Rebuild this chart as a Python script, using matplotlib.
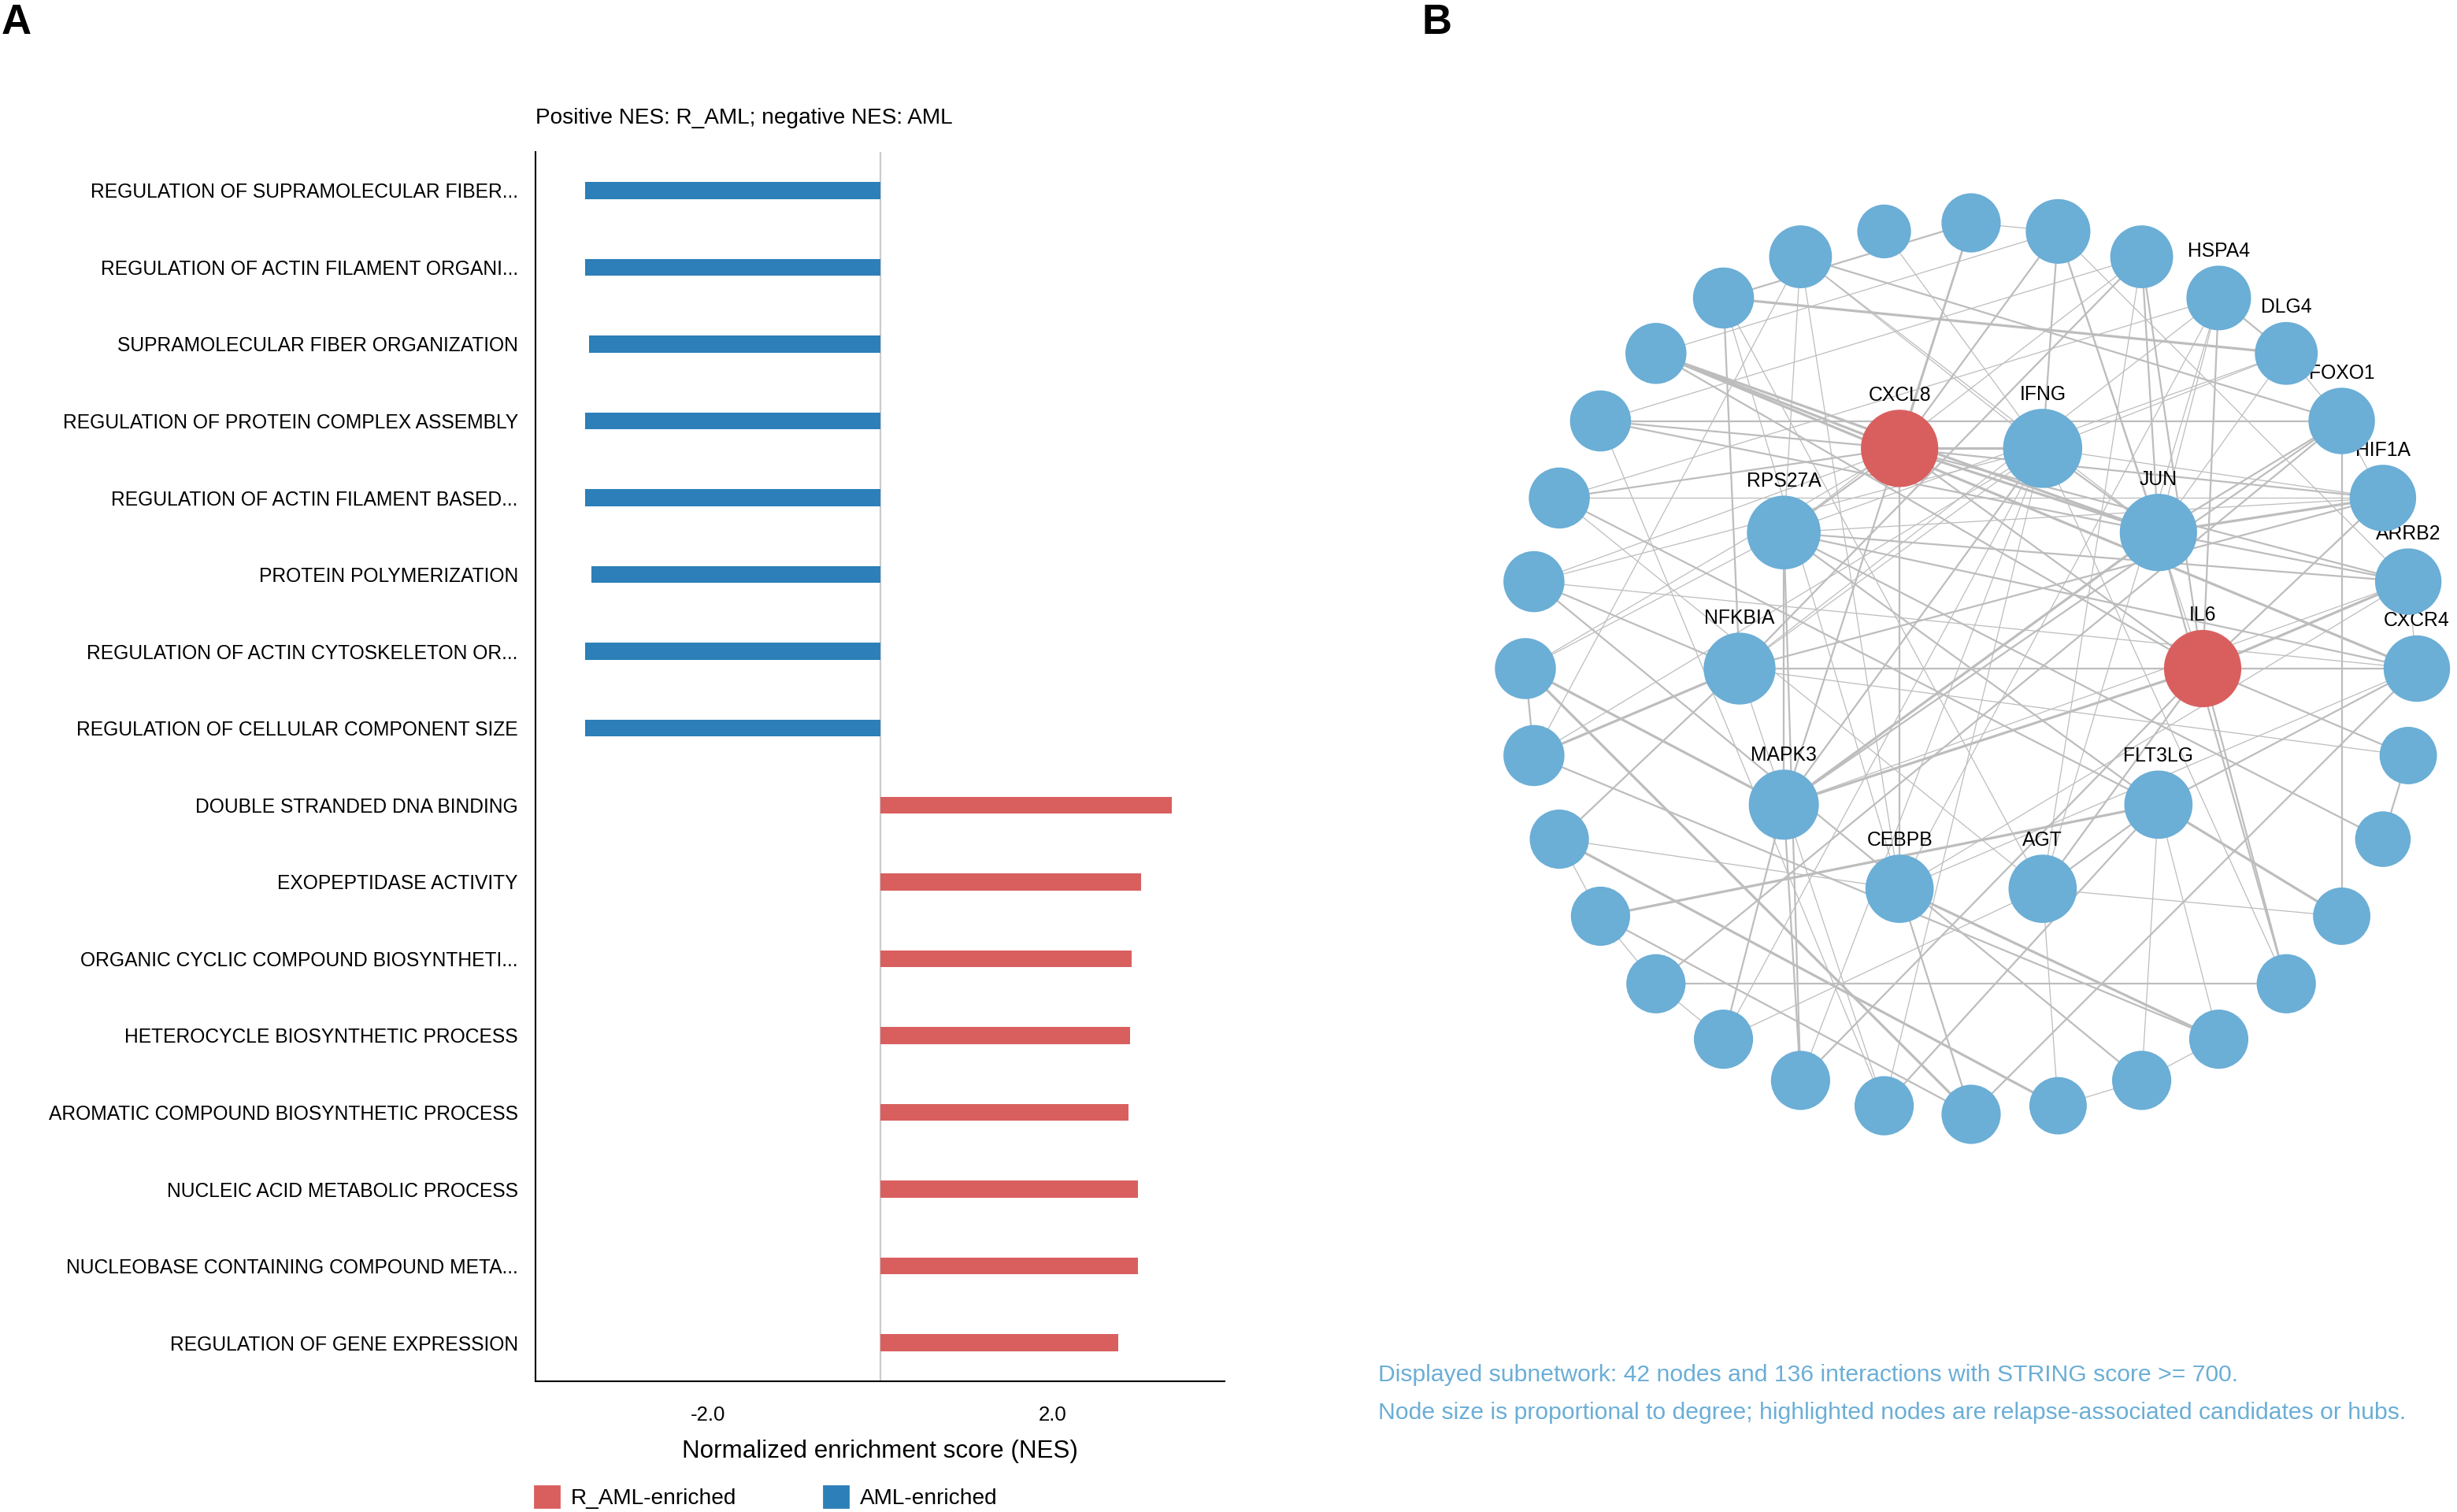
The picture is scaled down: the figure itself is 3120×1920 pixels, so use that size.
import numpy as np
import matplotlib
matplotlib.use("Agg")
import matplotlib.pyplot as plt
from matplotlib.patches import Patch, Circle
from matplotlib.collections import LineCollection

plt.rcParams['font.family'] = ['Liberation Sans', 'DejaVu Sans']
plt.rcParams['axes.unicode_minus'] = False

# ---- panel A data ----
terms = [
    "REGULATION OF SUPRAMOLECULAR FIBER...",
    "REGULATION OF ACTIN FILAMENT ORGANI...",
    "SUPRAMOLECULAR FIBER ORGANIZATION",
    "REGULATION OF PROTEIN COMPLEX ASSEMBLY",
    "REGULATION OF ACTIN FILAMENT BASED...",
    "PROTEIN POLYMERIZATION",
    "REGULATION OF ACTIN CYTOSKELETON OR...",
    "REGULATION OF CELLULAR COMPONENT SIZE",
    "DOUBLE STRANDED DNA BINDING",
    "EXOPEPTIDASE ACTIVITY",
    "ORGANIC CYCLIC COMPOUND BIOSYNTHETI...",
    "HETEROCYCLE BIOSYNTHETIC PROCESS",
    "AROMATIC COMPOUND BIOSYNTHETIC PROCESS",
    "NUCLEIC ACID METABOLIC PROCESS",
    "NUCLEOBASE CONTAINING COMPOUND META...",
    "REGULATION OF GENE EXPRESSION",
]
nes = [-3.42, -3.42, -3.38, -3.42, -3.42, -3.35, -3.42, -3.42,
       3.39, 3.03, 2.92, 2.90, 2.88, 2.99, 2.99, 2.77]
xticks = [-2.0, 2.0]
xtick_labels = ["-2.0", "2.0"]

# ---- panel B data ----
outer_nodes = ["n00", "n01", "n02", "HSPA4", "DLG4", "FOXO1", "HIF1A", "ARRB2",
               "CXCR4", "n09", "n10", "n11", "n12", "n13", "n14", "n15",
               "n16", "n17", "n18", "n19", "n20", "n21", "n22", "n23",
               "n24", "n25", "n26", "n27", "n28", "n29", "n30", "n31"]
inner_nodes = ["CXCL8", "IFNG", "JUN", "IL6", "FLT3LG",
               "AGT", "CEBPB", "MAPK3", "NFKBIA", "RPS27A"]
highlight = ["CXCL8", "IL6"]

# (node, node, weight class)
edges = [
    # inner - inner
    ("CXCL8", "IFNG", 3), ("CXCL8", "JUN", 3), ("CXCL8", "IL6", 2),
    ("CXCL8", "CEBPB", 2), ("CXCL8", "RPS27A", 2), ("IFNG", "JUN", 2),
    ("IFNG", "MAPK3", 2), ("JUN", "MAPK3", 3), ("IL6", "MAPK3", 3),
    ("IL6", "NFKBIA", 2), ("IL6", "AGT", 2), ("RPS27A", "MAPK3", 2),
    ("RPS27A", "FLT3LG", 2), ("AGT", "FLT3LG", 2), ("IFNG", "NFKBIA", 1),
    # outer - outer
    ("n29", "n00", 2), ("n00", "n01", 1), ("n28", "n01", 1), ("n27", "n02", 1),
    ("HSPA4", "n26", 1), ("HSPA4", "DLG4", 2), ("DLG4", "n29", 3),
    ("DLG4", "FOXO1", 1), ("FOXO1", "n30", 2), ("FOXO1", "n27", 2),
    ("FOXO1", "n11", 2), ("FOXO1", "n20", 2), ("HIF1A", "n26", 1),
    ("ARRB2", "n01", 1), ("ARRB2", "CXCR4", 1), ("CXCR4", "n28", 3),
    ("CXCR4", "n16", 2), ("CXCR4", "n25", 1), ("n09", "n10", 2),
    ("n20", "n12", 2), ("n13", "n14", 1), ("n14", "n15", 1), ("n13", "n23", 2),
    ("n15", "n22", 3), ("n16", "n21", 2), ("n16", "n24", 3), ("n19", "n20", 1),
    ("n20", "n21", 1), ("n21", "n22", 1), ("n23", "n24", 2), ("n23", "n30", 1),
    ("FOXO1", "HIF1A", 1), ("n27", "n17", 1), ("n25", "n14", 2),
    # outer - inner
    ("n00", "CXCL8", 2), ("n00", "MAPK3", 2),
    ("n01", "IFNG", 2), ("n01", "JUN", 2), ("n01", "IL6", 1), ("n01", "CXCL8", 2),
    ("n02", "JUN", 2), ("n02", "IL6", 2), ("n02", "NFKBIA", 2), ("n02", "AGT", 1),
    ("n02", "RPS27A", 1),
    ("HSPA4", "JUN", 1), ("HSPA4", "IL6", 2), ("HSPA4", "NFKBIA", 1),
    ("HSPA4", "AGT", 1), ("HSPA4", "CEBPB", 1),
    ("DLG4", "JUN", 1), ("DLG4", "RPS27A", 1), ("DLG4", "IFNG", 1),
    ("FOXO1", "JUN", 2), ("FOXO1", "MAPK3", 2),
    ("HIF1A", "IFNG", 1), ("HIF1A", "JUN", 3), ("HIF1A", "NFKBIA", 2),
    ("HIF1A", "IL6", 2), ("HIF1A", "CXCL8", 2), ("HIF1A", "RPS27A", 1),
    ("ARRB2", "IL6", 3), ("ARRB2", "CXCL8", 2), ("ARRB2", "JUN", 2),
    ("ARRB2", "RPS27A", 2), ("ARRB2", "MAPK3", 1), ("ARRB2", "CEBPB", 1),
    ("CXCR4", "IL6", 2), ("CXCR4", "FLT3LG", 2), ("CXCR4", "RPS27A", 2),
    ("CXCR4", "CEBPB", 1),
    ("n09", "IL6", 2), ("n09", "NFKBIA", 1), ("n10", "RPS27A", 2),
    ("n11", "FLT3LG", 3), ("n11", "AGT", 1),
    ("n12", "IL6", 2), ("n12", "JUN", 2), ("n12", "IFNG", 1),
    ("n13", "FLT3LG", 1), ("n13", "CEBPB", 3), ("n14", "FLT3LG", 1),
    ("n15", "AGT", 1), ("n16", "CEBPB", 2),
    ("n17", "FLT3LG", 2), ("n17", "IFNG", 1), ("n17", "NFKBIA", 1),
    ("n18", "MAPK3", 2), ("n18", "IL6", 2), ("n18", "RPS27A", 2), ("n18", "IFNG", 1),
    ("n19", "MAPK3", 2), ("n19", "IFNG", 1), ("n19", "AGT", 1),
    ("n21", "FLT3LG", 3), ("n22", "NFKBIA", 2), ("n22", "CEBPB", 1),
    ("n23", "NFKBIA", 3), ("n23", "IFNG", 1),
    ("n24", "MAPK3", 3), ("n24", "CXCL8", 1), ("n24", "RPS27A", 1),
    ("n25", "CXCL8", 1), ("n25", "IFNG", 1), ("n25", "NFKBIA", 2),
    ("n26", "CXCL8", 2), ("n26", "FLT3LG", 2), ("n26", "AGT", 1),
    ("n27", "CXCL8", 2), ("n27", "JUN", 2),
    ("n28", "CXCL8", 3), ("n28", "JUN", 3), ("n28", "IL6", 2),
    ("n29", "NFKBIA", 2), ("n29", "AGT", 1), ("n29", "CEBPB", 1),
    ("n30", "IFNG", 1), ("n30", "CEBPB", 1), ("n30", "RPS27A", 1), ("n30", "JUN", 1),
    ("n31", "IFNG", 1),
]

RED = "#d95f5f"
BLUE_BAR = "#2c7fb8"
NODE_BLUE = "#6baed6"
EDGE = "#bdbdbd"

W, H = 3120, 1920
fig = plt.figure(figsize=(W / 200, H / 200), dpi=200)

# ---------------- panel A ----------------
ax = fig.add_axes([680 / W, 1 - 1754 / H, 875 / W, (1754 - 193) / H])
ypos = np.arange(len(terms))
bar_cols = [RED if v > 0 else BLUE_BAR for v in nes]
ax.axvline(0, color="#cccccc", lw=0.8, zorder=1)
ax.barh(ypos, nes, height=0.22, color=bar_cols, zorder=2)
ax.set_xlim(-4, 4)
ax.set_ylim(len(terms) - 0.5, -0.5)
ax.set_yticks(ypos, terms, fontsize=8.85)
ax.set_xticks(xticks, xtick_labels, fontsize=9.3)
ax.tick_params(length=0)
ax.tick_params(axis="y", pad=8)
ax.tick_params(axis="x", pad=11)
for s in ["top", "right"]:
    ax.spines[s].set_visible(False)
for s in ["left", "bottom"]:
    ax.spines[s].set_linewidth(0.75)
ax.set_xlabel("Normalized enrichment score (NES)", fontsize=11.3, labelpad=7)

fig.text(680 / W, 1 - 157 / H, "Positive NES: R_AML; negative NES: AML",
         fontsize=10.1, ha="left", va="baseline")

handles = [Patch(color=RED, label="R_AML-enriched"),
           Patch(color=BLUE_BAR, label="AML-enriched")]
fig.legend(handles=handles, loc="lower left", bbox_to_anchor=(679 / W, 4 / H),
           ncol=2, frameon=False, fontsize=10.1, handlelength=1.09,
           handleheight=1.09, handletextpad=0.55, columnspacing=3.95,
           borderpad=0, borderaxespad=0)

fig.text(2 / W, 1 - 43 / H, "A", fontsize=19, weight="bold", va="baseline")
fig.text(1805 / W, 1 - 43 / H, "B", fontsize=19, weight="bold", va="baseline")

# ---------------- panel B ----------------
CX, CY = 2503, 849          # network centre in figure px
R_OUT, R_IN = 566, 294
axb = fig.add_axes([1850 / W, 1 - 1500 / H, 1270 / W, 1300 / H])
axb.set_xlim(1850 - CX, W - CX)
axb.set_ylim(-(1500 - CY), CY - 200)
axb.axis("off")

pos = {}
for i, n in enumerate(outer_nodes):
    a = np.deg2rad(90 - i * 360 / len(outer_nodes))
    pos[n] = (R_OUT * np.cos(a), R_OUT * np.sin(a))
for j, n in enumerate(inner_nodes):
    a = np.deg2rad(108 - j * 360 / len(inner_nodes))
    pos[n] = (R_IN * np.cos(a), R_IN * np.sin(a))

deg = {n: 0 for n in pos}
for a_, b_, _ in edges:
    deg[a_] += 1
    deg[b_] += 1

lw_map = {1: 0.45, 2: 0.8, 3: 1.15}
segs = [[pos[a_], pos[b_]] for a_, b_, _ in edges]
lws = [lw_map[w] for _, _, w in edges]
axb.add_collection(LineCollection(segs, colors=EDGE, linewidths=lws, zorder=1))

for n, (x, y) in pos.items():
    r = (66 + 2.3 * deg[n]) / 2
    col = RED if n in highlight else NODE_BLUE
    axb.add_patch(Circle((x, y), r, facecolor=col, edgecolor="none", zorder=3,
                         clip_on=False))
    if not n.startswith("n"):
        axb.text(x, y + r + 11.5, n, ha="center", va="baseline", fontsize=8.9,
                 zorder=2, clip_on=False)

fig.text(1750 / W, 1 - 1754 / H,
         "Displayed subnetwork: 42 nodes and 136 interactions with STRING score >= 700.",
         fontsize=10.85, color=NODE_BLUE, va="baseline")
fig.text(1750 / W, 1 - 1802 / H,
         "Node size is proportional to degree; highlighted nodes are relapse-associated candidates or hubs.",
         fontsize=10.85, color=NODE_BLUE, va="baseline")

fig.savefig("out.png", dpi=200, facecolor="white")
